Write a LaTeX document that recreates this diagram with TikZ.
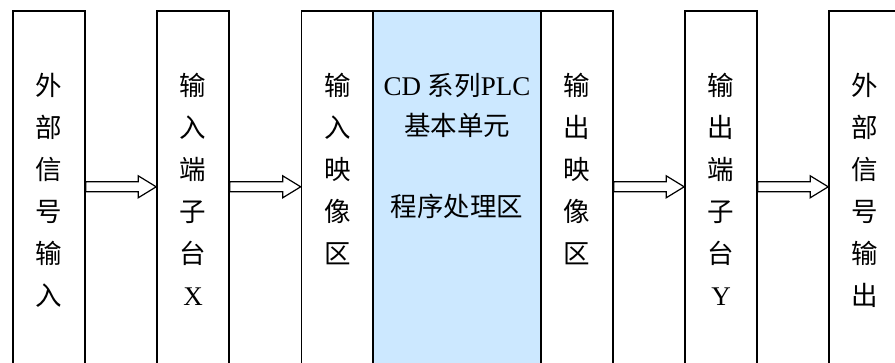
\documentclass[tikz,border=0pt]{standalone}
\usepackage{fontspec}
\setmainfont{Liberation Serif}
\newfontfamily\cjk{Noto Sans CJK SC}
\usetikzlibrary{positioning,calc}
\definecolor{plcblue}{RGB}{204,232,255}
\newcommand{\lat}[1]{{\rmfamily\fontsize{27}{42}\selectfont #1}}

\tikzset{
  blockarrow/.style={line width=1.2pt,fill=white,
    to path={($(\tikztostart)+(0,5)$) -- ($(\tikztotarget)+(-18,5)$)
      -- ($(\tikztotarget)+(-18,11)$) -- (\tikztotarget)
      -- ($(\tikztotarget)+(-18,-11)$) -- ($(\tikztotarget)+(-18,-5)$)
      -- ($(\tikztostart)+(0,-5)$) -- cycle}}
}

\begin{document}
\begin{tikzpicture}[x=1pt,y=1pt]

      \path[use as bounding box] (0,0) rectangle (895,362);
      \clip (0,0) rectangle (895,362);

      \begin{scope}[every node/.style={draw,line width=1.6pt,anchor=north,
          minimum width=72pt,minimum height=380pt,inner sep=0pt}]
        \node[fill=plcblue,minimum width=168pt] (cpu) at (457,352) {};
        \node (sigin)  at (49,352)  {};
        \node (termx)  at (193,352) {};
        \node (imgin)  at (337.5,352) {};
        \node (imgout) at (577,352) {};
        \node (termy)  at (721,352) {};
        \node (sigout) at (865,352) {};
      \end{scope}

      \begin{scope}[every node/.style={anchor=north,inner sep=0pt,align=center,
          font=\cjk\fontsize{26.5}{42}\selectfont}]
        \node (tsigin)  at ([yshift=-63pt]sigin.north)  {外\\部\\信\\号\\输\\入};
        \node (ttermx)  at ([yshift=-63pt]termx.north)  {输\\入\\端\\子\\台\\\lat{X}};
        \node (timgin)  at ([yshift=-63pt]imgin.north)  {输\\入\\映\\像\\区};
        \node[font=\cjk\fontsize{26.5}{40.5}\selectfont] (tcpu) at ([yshift=-63pt]cpu.north)
          {\lat{CD\ }系列\lat{PLC}\\基本单元\\[40.5pt]程序处理区};
        \node (timgout) at ([yshift=-63pt]imgout.north) {输\\出\\映\\像\\区};
        \node (ttermy)  at ([yshift=-63pt]termy.north)  {输\\出\\端\\子\\台\\\lat{Y}};
        \node (tsigout) at ([yshift=-63pt]sigout.north) {外\\部\\信\\号\\输\\出};
      \end{scope}

      \path ([yshift=14pt]sigin.east)  edge[blockarrow] ([yshift=14pt]termx.west);
      \path ([yshift=14pt]termx.east)  edge[blockarrow] ([yshift=14pt]imgin.west);
      \path ([yshift=14pt]imgout.east) edge[blockarrow] ([yshift=14pt]termy.west);
      \path ([yshift=14pt]termy.east)  edge[blockarrow] ([yshift=14pt]sigout.west);

    \end{tikzpicture}
\end{document}
